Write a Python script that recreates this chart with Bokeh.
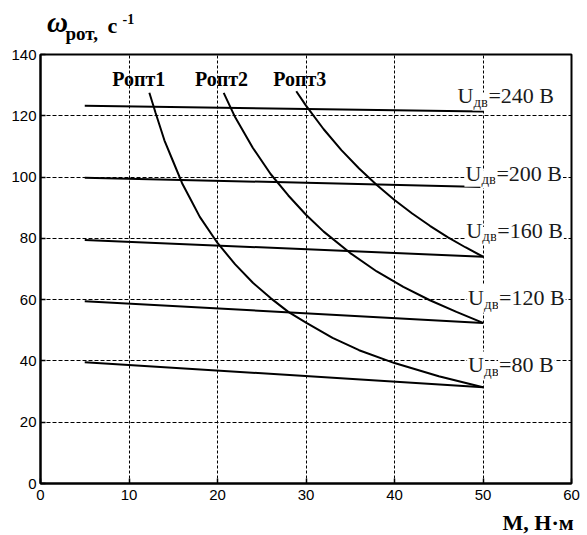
from bokeh.plotting import figure
from bokeh.layouts import column
from bokeh.models import Range1d, ColumnDataSource, FixedTicker
from bokeh.core.properties import value
from bokeh.embed import file_html
from bokeh.resources import INLINE

# ---- data ----
x_ticks = [0, 10, 20, 30, 40, 50, 60]
y_ticks = [0, 20, 40, 60, 80, 100, 120, 140]

voltages = [240, 200, 160, 120, 80]
m_line = [5, 50]
omega_start = [123.3, 99.8, 79.5, 59.5, 39.6]
omega_end = [121.4, 96.8, 74.0, 52.4, 31.4]

ropt_names = ["Ропт1", "Ропт2", "Ропт3"]
ropt1_m = [12.3, 13, 14, 15, 16, 17, 18, 20, 22, 24, 26, 28, 30, 33, 36, 40, 45, 50]
ropt1_w = [127.5, 121, 112, 105, 98, 92.5, 87, 78.5, 71.5, 65.5, 60.5, 56, 52.5, 47.5, 43.5, 39.3, 35, 31.4]
ropt2_m = [20.7, 22, 24, 26, 28, 30, 32, 35, 38, 41, 44, 47, 50]
ropt2_w = [127.5, 119.5, 109.5, 101, 94, 87.7, 82.2, 75.2, 69.2, 64.2, 59.8, 56, 52.4]
ropt3_m = [28.9, 30, 32, 34, 36, 38, 40, 42, 44, 46, 48, 50]
ropt3_w = [128, 123.3, 115.6, 108.8, 102.8, 97.4, 92.5, 88.1, 84.1, 80.4, 77.1, 74.0]

# annotation anchor positions (data units)
volt_label_x = [47.0, 47.9, 48.0, 48.2, 48.2]
volt_label_y = [124.0, 98.6, 80.1, 58.0, 36.1]
ropt_label_x = [11.1, 20.45, 29.3]
ropt_label_y = [129.6, 129.6, 129.6]

W = 587
TOP_H = 44
BOT_H = 25
MAIN_H = 535 - TOP_H - BOT_H
SERIF = value("Liberation Serif")


def text_strip(h):
    f = figure(width=W, height=h, output_backend="svg", toolbar_location=None,
               x_range=Range1d(0, W), y_range=Range1d(h, 0),
               min_border=0, min_border_left=0, min_border_right=0,
               min_border_top=0, min_border_bottom=0, frame_align=False)
    f.axis.visible = False
    f.grid.visible = False
    f.outline_line_color = None
    f.background_fill_color = "white"
    f.border_fill_color = "white"
    return f


# ---- top strip: omega_рот, с^-1 ----
top = text_strip(TOP_H)
top.text(x=[57], y=[32], text=["ω"], text_font=SERIF, text_font_style="bold italic",
         text_font_size="29px", y_offset=-10.5, text_baseline="alphabetic",
         text_align="center", text_color="black")
t_src = ColumnDataSource(dict(
    x=[65, 107, 122], y=[40, 33, 23],
    t=["рот,", "с", "-1"],
    size=["19px", "22px", "14px"],
    off=[-7, -8, -5],
))
top.text(x="x", y="y", text="t", source=t_src, text_font=SERIF, text_font_style="bold",
         text_font_size="size", y_offset="off", text_baseline="alphabetic",
         text_align="left", text_color="black")

# ---- main plot ----
p = figure(width=W, height=MAIN_H, output_backend="svg", toolbar_location=None,
           x_range=Range1d(0, 60), y_range=Range1d(0, 140), frame_align=False,
           min_border_left=40, min_border_right=16, min_border_top=10, min_border_bottom=27)
p.background_fill_color = "white"
p.border_fill_color = "white"
p.outline_line_color = "black"
p.outline_line_width = 2

for ax in (p.xaxis[0], p.yaxis[0]):
    ax.axis_line_width = 2
    ax.axis_line_color = "black"
    ax.major_tick_in = 5
    ax.major_tick_out = 0
    ax.major_tick_line_color = "black"
    ax.major_tick_line_width = 1.5
    ax.minor_tick_line_color = None
    ax.major_label_text_font = "Liberation Sans"
    ax.major_label_text_font_size = "15px"
    ax.major_label_text_color = "black"
p.xaxis[0].ticker = FixedTicker(ticks=x_ticks)
p.yaxis[0].ticker = FixedTicker(ticks=y_ticks)
p.xaxis[0].major_label_standoff = 6
p.yaxis[0].major_label_standoff = 4

p.xgrid.ticker = FixedTicker(ticks=x_ticks[1:-1])
p.ygrid.ticker = FixedTicker(ticks=y_ticks[1:-1])
p.xgrid.grid_line_color = "black"
p.xgrid.grid_line_dash = "3 2"
p.xgrid.grid_line_width = 1
p.ygrid.grid_line_color = "black"
p.ygrid.grid_line_dash = "4 2"
p.ygrid.grid_line_width = 1

# voltage lines
for ws, we in zip(omega_start, omega_end):
    p.line(m_line, [ws, we], line_color="black", line_width=2)

# optimal power curves
for ms, ws in ((ropt1_m, ropt1_w), (ropt2_m, ropt2_w), (ropt3_m, ropt3_w)):
    p.line(ms, ws, line_color="black", line_width=2)

# voltage labels U_дв=... В
vsrc = ColumnDataSource(dict(x=volt_label_x, y=volt_label_y,
                             u=["U"] * len(voltages),
                             sub=["дв"] * len(voltages),
                             rest=["=%d В" % v for v in voltages]))
common = dict(text_font=SERIF, text_color="#1a1a1a",
              text_baseline="alphabetic", text_align="left",
              background_fill_color="white", padding=1)
p.text(x="x", y="y", text="u", source=vsrc, text_font_size="22px", y_offset=-8, **common)
p.text(x="x", y="y", text="sub", source=vsrc, text_font_size="15px", x_offset=16, y_offset=-2, **common)
p.text(x="x", y="y", text="rest", source=vsrc, text_font_size="22px", x_offset=31, y_offset=-8, **common)

# Ропт labels
rsrc = ColumnDataSource(dict(x=ropt_label_x, y=ropt_label_y, t=ropt_names))
p.text(x="x", y="y", text="t", source=rsrc, text_font=SERIF,
       text_font_style="bold", text_font_size="20px", text_align="center",
       text_baseline="alphabetic", text_color="black", y_offset=-7)

# ---- bottom strip: axis title ----
bot = text_strip(BOT_H)
b_src = ColumnDataSource(dict(x=[502], y=[22], t=["М, Н·м"]))
bot.text(x="x", y="y", text="t", source=b_src, text_font=SERIF, text_font_style="bold",
         text_font_size="22px", y_offset=-10, text_baseline="alphabetic",
         text_align="left", text_color="black")

layout = column(top, p, bot, spacing=0)
open("out.html", "w").write(file_html(layout, INLINE))
